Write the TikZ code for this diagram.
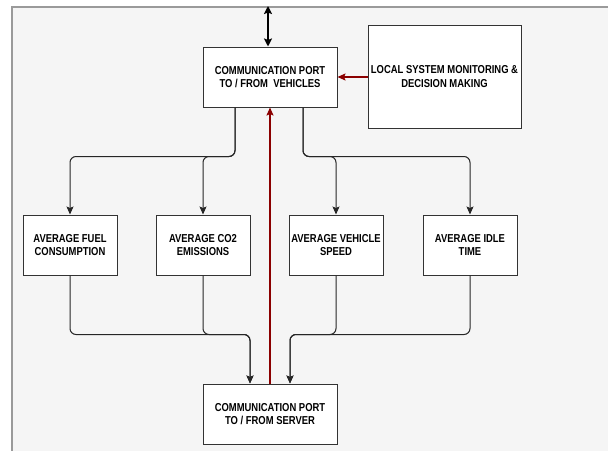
\documentclass[tikz,border=0pt]{standalone}
\usepackage{fontspec}
\newfontfamily\lbl[FakeStretch=0.82]{Liberation Sans}
\usetikzlibrary{arrows.meta}
\definecolor{bgc}{HTML}{F5F5F5}
\definecolor{framec}{HTML}{9A9A9A}
\definecolor{darkred}{HTML}{8B0000}
\definecolor{boxc}{HTML}{333333}
\tikzset{
  box/.style={draw=boxc, fill=white, line width=1pt, minimum width=#1, minimum height=60pt,
    inner sep=0pt, align=center, font=\lbl\bfseries\fontsize{11.5}{13.5}\selectfont},
  box/.default=94pt,
  tip/.style={-{Stealth[length=8pt,width=7pt,inset=1.5pt]}},
  conn/.style={tip, draw=black!85, line width=1pt, rounded corners=6pt},
  redconn/.style={tip, draw=darkred, line width=1.5pt},
  bigconn/.style={{Stealth[length=8pt,width=8pt,inset=1.5pt]}-{Stealth[length=8pt,width=8pt,inset=1.5pt]}, draw=black, line width=2pt}
}
\begin{document}
\begin{tikzpicture}[x=1pt,y=-1pt]
\useasboundingbox (0,0) rectangle (608,450);
\fill[white] (0,0) rectangle (608,450);
\draw[fill=bgc, draw=framec, line width=2pt] (12,7) rectangle (620,470);

\node[box=134pt] (veh) at (270,77) {COMMUNICATION PORT\\TO / FROM\ \ VEHICLES};
\node[box=153pt, minimum height=103pt] (local) at (444.5,76.5) {LOCAL SYSTEM MONITORING \&\\DECISION MAKING};
\node[box] (m1) at (70,245) {AVERAGE FUEL\\CONSUMPTION};
\node[box] (m2) at (203,245) {AVERAGE CO2\\EMISSIONS};
\node[box] (m3) at (336,245) {AVERAGE VEHICLE\\SPEED};
\node[box] (m4) at (470,245) {AVERAGE IDLE\\TIME};
\node[box=134pt] (srv) at (270,414) {COMMUNICATION PORT\\TO / FROM SERVER};

\coordinate (ext) at (268,6);
\draw[bigconn] (ext) -- ([xshift=-2pt]veh.north);
\draw[redconn] (local.west |- veh.east) -- (veh.east);
\draw[redconn] (srv.north) -- (veh.south);

\draw[conn] ([xshift=-35pt]veh.south) -- ++(0,49) -| (m1.north);
\draw[conn] ([xshift=-35pt]veh.south) -- ++(0,49) -| (m2.north);
\draw[conn] ([xshift=33pt]veh.south) -- ++(0,49) -| (m3.north);
\draw[conn] ([xshift=33pt]veh.south) -- ++(0,49) -| (m4.north);

\draw[conn] (m1.south) -- ++(0,59) -| ([xshift=-20pt]srv.north);
\draw[conn] (m2.south) -- ++(0,59) -| ([xshift=-20pt]srv.north);
\draw[conn] (m3.south) -- ++(0,59) -| ([xshift=20pt]srv.north);
\draw[conn] (m4.south) -- ++(0,59) -| ([xshift=20pt]srv.north);
\end{tikzpicture}
\end{document}
